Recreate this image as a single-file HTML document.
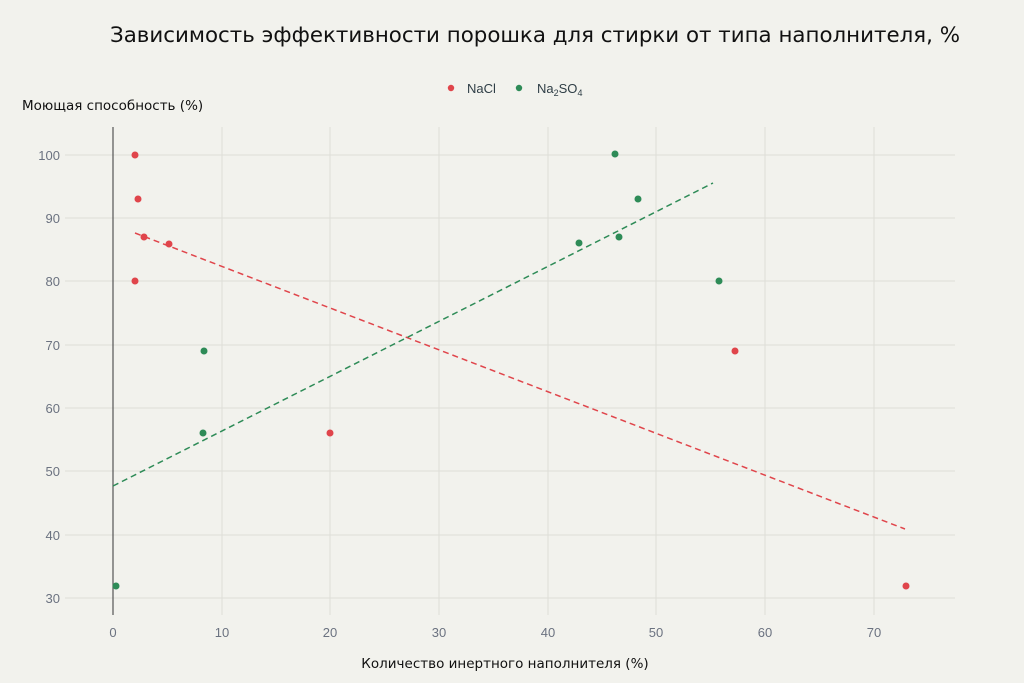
<!DOCTYPE html>
<html><head><meta charset="utf-8"><style>
body{margin:0;background:#f2f2ed;}
svg{display:block}
</style></head><body>
<svg width="1024" height="683" xmlns="http://www.w3.org/2000/svg" font-family="Liberation Sans, sans-serif">
<rect width="1024" height="683" fill="#f2f2ed"/>
<text x="535" y="42" text-anchor="middle" font-family="DejaVu Sans, sans-serif" font-size="21" textLength="850" lengthAdjust="spacingAndGlyphs" fill="#111">Зависимость эффективности порошка для стирки от типа наполнителя, %</text>
<circle cx="451" cy="88" r="3.2" fill="#e0454b"/>
<text x="467" y="93" font-size="13" fill="#2f3e46">NaCl</text>
<circle cx="519" cy="88" r="3.2" fill="#2e8b57"/>
<text x="537" y="93" font-size="13" fill="#2f3e46">Na<tspan font-size="9" dy="3">2</tspan><tspan dy="-3">SO</tspan><tspan font-size="9" dy="3">4</tspan></text>
<text x="22" y="110" font-family="DejaVu Sans, sans-serif" font-size="13.5" fill="#111">Моющая способность (%)</text>
<g stroke="#dedeD8" stroke-width="1">
<line x1="65" y1="155" x2="955" y2="155"/><line x1="65" y1="218" x2="955" y2="218"/>
<line x1="65" y1="281" x2="955" y2="281"/><line x1="65" y1="345" x2="955" y2="345"/>
<line x1="65" y1="408" x2="955" y2="408"/><line x1="65" y1="471" x2="955" y2="471"/>
<line x1="65" y1="535" x2="955" y2="535"/><line x1="65" y1="598" x2="955" y2="598"/>
<line x1="222" y1="127" x2="222" y2="615"/><line x1="330" y1="127" x2="330" y2="615"/>
<line x1="439" y1="127" x2="439" y2="615"/><line x1="548" y1="127" x2="548" y2="615"/>
<line x1="656" y1="127" x2="656" y2="615"/><line x1="765" y1="127" x2="765" y2="615"/>
<line x1="874" y1="127" x2="874" y2="615"/>
</g>
<line x1="113" y1="127" x2="113" y2="615" stroke="#555" stroke-width="1.2"/>
<g font-size="13" fill="#6b7280" text-anchor="end">
<text x="60" y="160">100</text><text x="60" y="223">90</text><text x="60" y="286">80</text>
<text x="60" y="350">70</text><text x="60" y="413">60</text><text x="60" y="476">50</text>
<text x="60" y="540">40</text><text x="60" y="603">30</text>
</g>
<g font-size="13" fill="#6b7280" text-anchor="middle">
<text x="113" y="637">0</text><text x="222" y="637">10</text><text x="330" y="637">20</text>
<text x="439" y="637">30</text><text x="548" y="637">40</text><text x="656" y="637">50</text>
<text x="765" y="637">60</text><text x="874" y="637">70</text>
</g>
<text x="505" y="668" text-anchor="middle" font-family="DejaVu Sans, sans-serif" font-size="13.5" fill="#111">Количество инертного наполнителя (%)</text>
<line x1="135" y1="233" x2="905" y2="529" stroke="#e0454b" stroke-width="1.5" stroke-dasharray="6,4"/>
<line x1="113" y1="486" x2="713" y2="183" stroke="#2e8b57" stroke-width="1.5" stroke-dasharray="6,4"/>
<g fill="#e0454b">
<circle cx="135" cy="155" r="3.5"/><circle cx="138" cy="199" r="3.5"/><circle cx="144" cy="237" r="3.5"/>
<circle cx="169" cy="244" r="3.5"/><circle cx="135" cy="281" r="3.5"/><circle cx="330" cy="433" r="3.5"/>
<circle cx="735" cy="351" r="3.5"/><circle cx="906" cy="586" r="3.5"/>
</g>
<g fill="#2e8b57">
<circle cx="116" cy="586" r="3.5"/><circle cx="204" cy="351" r="3.5"/><circle cx="203" cy="433" r="3.5"/>
<circle cx="579" cy="243" r="3.5"/><circle cx="615" cy="154" r="3.5"/><circle cx="638" cy="199" r="3.5"/>
<circle cx="619" cy="237" r="3.5"/><circle cx="719" cy="281" r="3.5"/>
</g>
</svg>
</body></html>
